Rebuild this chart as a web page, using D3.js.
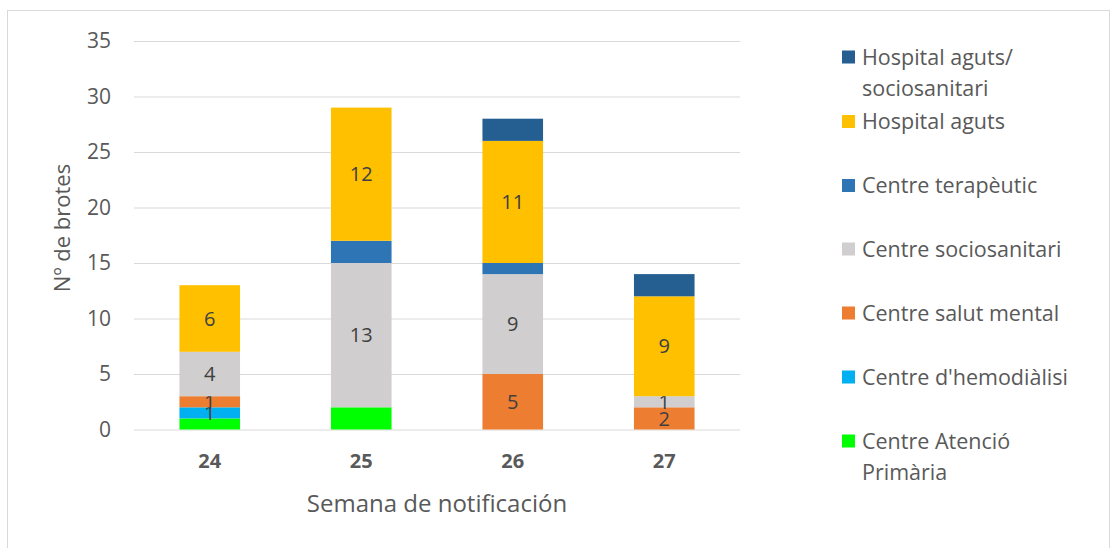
<!DOCTYPE html>
<html>
<head>
<meta charset="utf-8">
<script src="https://cdnjs.cloudflare.com/ajax/libs/d3/7.8.5/d3.min.js"></script>
<style>
body { margin: 0; background: #fff; }
svg text { font-family: "Open Sans", sans-serif; fill: #595959; }
</style>
</head>
<body>
<svg id="chart" width="1113" height="548"></svg>
<script>
var weeks = ["24", "25", "26", "27"];
var seriesNames = [
    "Centre Atenció Primària",
    "Centre d'hemodiàlisi",
    "Centre salut mental",
    "Centre sociosanitari",
    "Centre terapèutic",
    "Hospital aguts",
    "Hospital aguts/ sociosanitari"
];
var seriesColors = ["#00ff00", "#00b0f0", "#ed7d31", "#d0cece", "#2e75b6", "#ffc000", "#255e91"];
// which series carry a value label inside the bar
var seriesLabelled = [false, true, true, true, false, true, false];
var atencioPrimaria = [1, 2, 0, 0];
var hemodialisi = [1, 0, 0, 0];
var salutMental = [1, 0, 5, 2];
var sociosanitari = [4, 13, 9, 1];
var terapeutic = [0, 2, 1, 0];
var hospitalAguts = [6, 12, 11, 9];
var hospitalAgutsSocio = [0, 0, 2, 2];
var yTicks = [0, 5, 10, 15, 20, 25, 30, 35];

var seriesValues = [atencioPrimaria, hemodialisi, salutMental, sociosanitari,
    terapeutic, hospitalAguts, hospitalAgutsSocio];

var margin = { top: 41, left: 134, right: 373, bottom: 118 };
var width = 1113 - margin.left - margin.right;
var height = 548 - margin.top - margin.bottom - 0.5;

var root = d3.select("#chart");
// outer frame
root.append("rect")
    .attr("x", 7.5).attr("y", 10.5)
    .attr("width", 1102).attr("height", 545)
    .attr("fill", "none").attr("stroke", "#d9d9d9");

var svg = root.append("g")
    .attr("transform", "translate(" + margin.left + "," + margin.top + ")");

var xScale = d3.scaleBand().domain(weeks).range([0, width]).paddingInner(0.6).paddingOuter(0.3);
var yScale = d3.scaleLinear().domain([0, 35]).range([height, 0]);

var yAxis = d3.axisLeft(yScale).tickValues(yTicks).tickSize(-width).tickPadding(23);
svg.append("g")
    .call(yAxis)
    .call(g => g.select(".domain").remove())
    .call(g => g.selectAll("line").attr("stroke", "#d9d9d9"))
    .call(g => g.selectAll("text").attr("font-size", 21).attr("font-family", null).attr("fill", "#595959"));

var xAxis = d3.axisBottom(xScale).tickSize(0).tickPadding(24);
svg.append("g")
    .attr("transform", "translate(0," + height + ")")
    .call(xAxis)
    .call(g => g.select(".domain").remove())
    .call(g => g.selectAll("text").attr("font-size", 20).attr("font-family", null)
        .attr("font-weight", "bold").attr("fill", "#595959"));

// stacked data
var table = weeks.map(function(w, i) {
    var row = { week: w };
    seriesNames.forEach(function(s, j) { row[s] = seriesValues[j][i]; });
    return row;
});
var stacked = d3.stack().keys(seriesNames)(table);

stacked.forEach(function(layer, j) {
    var g = svg.append("g");
    g.selectAll("rect")
        .data(layer)
        .join("rect")
        .attr("x", d => xScale(d.data.week))
        .attr("y", d => yScale(d[1]))
        .attr("width", xScale.bandwidth())
        .attr("height", d => yScale(d[0]) - yScale(d[1]))
        .attr("fill", seriesColors[j]);
    if (seriesLabelled[j]) {
        g.selectAll("text")
            .data(layer.filter(d => d[1] - d[0] > 0))
            .join("text")
            .attr("x", d => xScale(d.data.week) + xScale.bandwidth() / 2)
            .attr("y", d => yScale((d[0] + d[1]) / 2))
            .attr("dy", "0.36em")
            .attr("text-anchor", "middle")
            .attr("font-size", 20)
            .style("fill", "#404040")
            .text(d => d[1] - d[0]);
    }
});

// axis titles
root.append("text")
    .attr("transform", "rotate(-90)")
    .attr("x", -228)
    .attr("y", 70)
    .attr("text-anchor", "middle")
    .attr("font-size", 22)
    .text("Nº de brotes");
root.append("text")
    .attr("x", 437)
    .attr("y", 512)
    .attr("text-anchor", "middle")
    .attr("font-size", 24)
    .text("Semana de notificación");

// legend, top to bottom
var legend = root.append("g").attr("transform", "translate(842,0)");
var legendY = [57, 121.5, 185.5, 249, 313, 377, 441];
var order = d3.range(seriesNames.length).reverse();
order.forEach(function(j, k) {
    var item = legend.append("g").attr("transform", "translate(0," + legendY[k] + ")");
    item.append("rect")
        .attr("x", 0).attr("y", -6.5)
        .attr("width", 13).attr("height", 13)
        .attr("fill", seriesColors[j]);
    var lines = seriesNames[j] == "Hospital aguts/ sociosanitari" ? ["Hospital aguts/", "sociosanitari"]
        : seriesNames[j] == "Centre Atenció Primària" ? ["Centre Atenció", "Primària"] : [seriesNames[j]];
    lines.forEach(function(t, n) {
        item.append("text")
            .attr("x", 20)
            .attr("y", n * 31)
            .attr("dy", "0.36em")
            .attr("font-size", 21.5)
            .text(t);
    });
});
</script>
</body>
</html>
